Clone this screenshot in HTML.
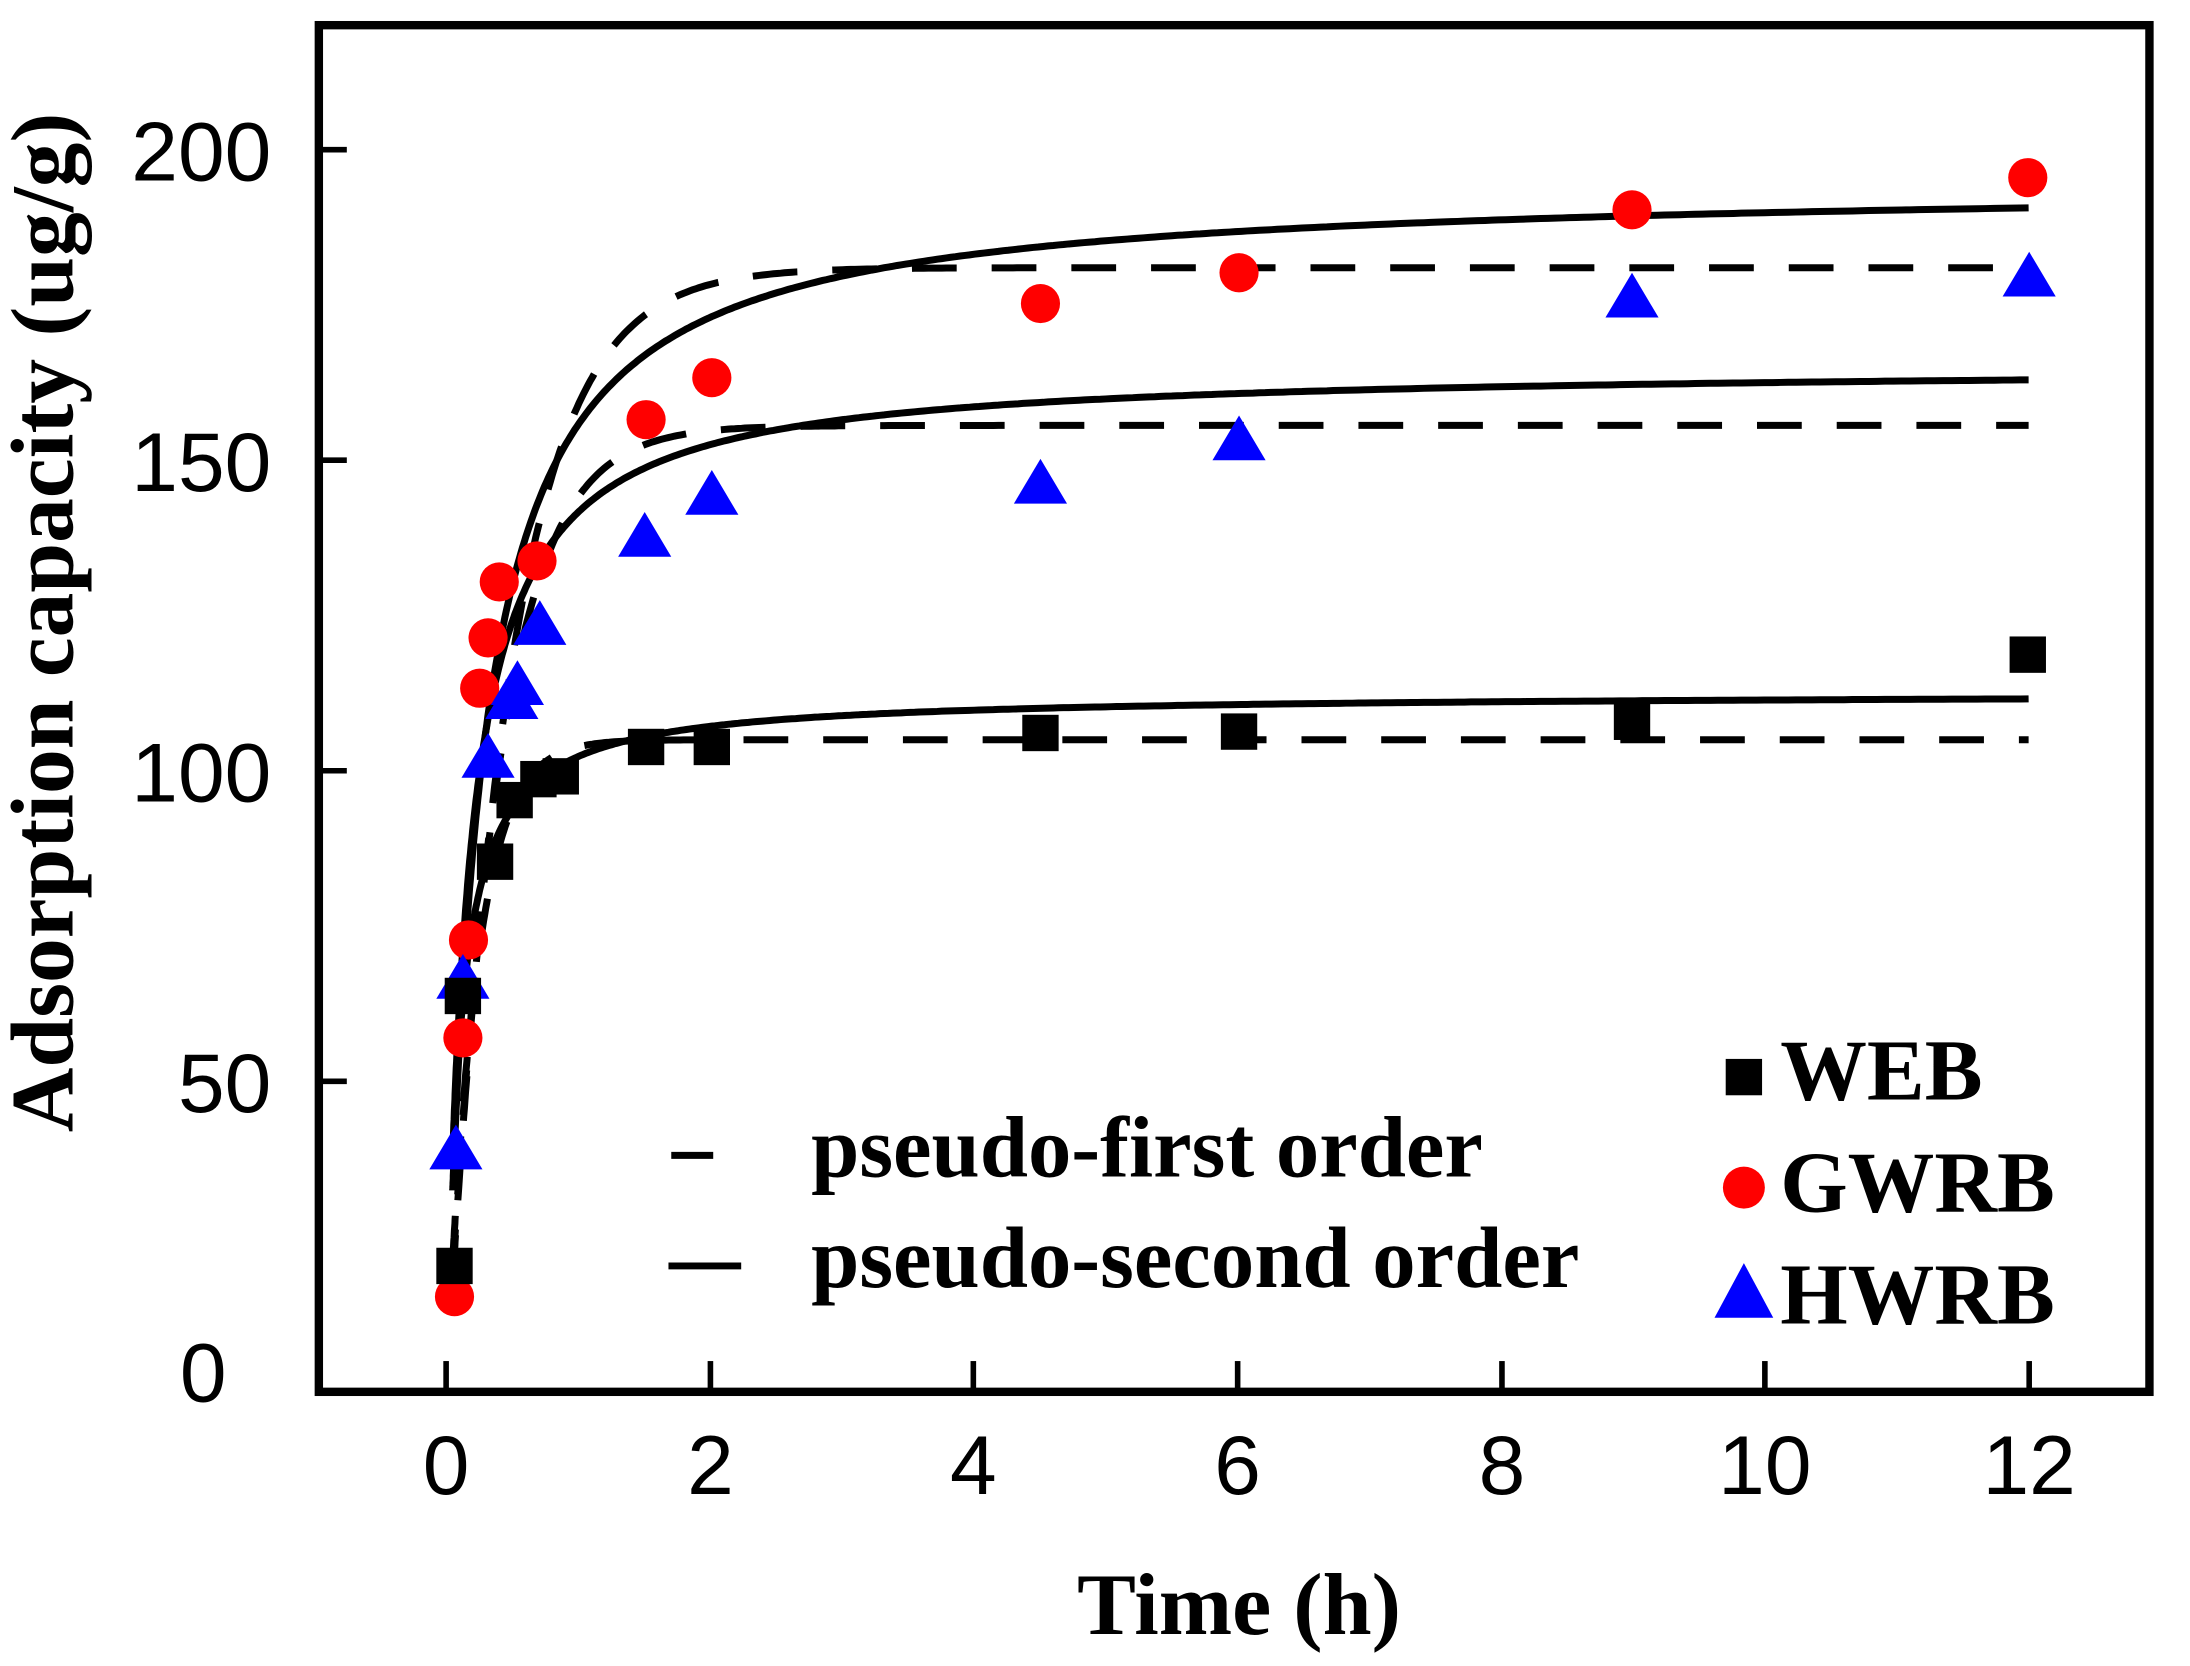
<!DOCTYPE html>
<html><head><meta charset="utf-8"><style>
html,body{margin:0;padding:0;background:#fff;overflow:hidden}
svg{display:block}
.tk{font-family:"Liberation Sans",Arial,sans-serif;font-size:60px;fill:#000}
.bt{font-family:"Liberation Serif","Times New Roman",serif;font-weight:bold;fill:#000}
</style></head><body>
<svg id="s" width="2190" height="1666" viewBox="0 0 1566 1191" preserveAspectRatio="none" xmlns="http://www.w3.org/2000/svg">
<rect x="0" y="0" width="1566" height="1191" fill="#fff"/>
<g id="curves" fill="none" stroke="#000"></g>
<g id="pts"></g>
<rect x="228" y="18" width="1309" height="977" fill="none" stroke="#000" stroke-width="6"/>
<g stroke="#000" stroke-width="4">
<line x1="228" y1="107" x2="248" y2="107"/>
<line x1="228" y1="329" x2="248" y2="329"/>
<line x1="228" y1="551" x2="248" y2="551"/>
<line x1="228" y1="773" x2="248" y2="773"/>
<line x1="319" y1="995" x2="319" y2="973"/>
<line x1="508" y1="995" x2="508" y2="973"/>
<line x1="696" y1="995" x2="696" y2="973"/>
<line x1="885" y1="995" x2="885" y2="973"/>
<line x1="1074" y1="995" x2="1074" y2="973"/>
<line x1="1262" y1="995" x2="1262" y2="973"/>
<line x1="1451" y1="995" x2="1451" y2="973"/>
</g>
<g class="tk" text-anchor="end">
<text x="194" y="129">200</text>
<text x="194" y="351">150</text>
<text x="194" y="573">100</text>
<text x="194" y="795">50</text>
<text x="162" y="1002">0</text>
</g>
<g class="tk" text-anchor="middle">
<text x="319" y="1068">0</text>
<text x="508" y="1068">2</text>
<text x="696" y="1068">4</text>
<text x="885" y="1068">6</text>
<text x="1074" y="1068">8</text>
<text x="1262" y="1068">10</text>
<text x="1451" y="1068">12</text>
</g>
<text class="bt" x="886" y="1168" text-anchor="middle" font-size="63">Time (h)</text>
<text class="bt" transform="translate(52,445) rotate(-90)" text-anchor="middle" font-size="64">Adsorption capacity (ug/g)</text>
<line x1="480" y1="826" x2="510" y2="826" stroke="#000" stroke-width="5"/>
<text class="bt" x="580" y="841" font-size="62">pseudo-first order</text>
<line x1="478" y1="905" x2="530" y2="905" stroke="#000" stroke-width="5"/>
<text class="bt" x="580" y="920" font-size="62">pseudo-second order</text>
<rect x="1234" y="757" width="26" height="26" fill="#000"/>
<text class="bt" x="1273" y="786" font-size="62">WEB</text>
<circle cx="1247" cy="849" r="15" fill="#f00"/>
<text class="bt" x="1273" y="866" font-size="62">GWRB</text>
<polygon points="1247,903 1226,942 1268,942" fill="#00f"/>
<text class="bt" x="1273" y="946" font-size="62">HWRB</text>
</svg>
<script>
const X=t=>319+94.3*t, Y=v=>995-4.44*v;
const g=document.getElementById('curves');
function path(f,dash){let d='';for(let i=0;i<=400;i++){const t=0.05+(12-0.05)*Math.pow(i/400,2.2);d+=(i?'L':'M')+X(t).toFixed(1)+' '+Y(f(t)).toFixed(1);}
const p=document.createElementNS('http://www.w3.org/2000/svg','path');p.setAttribute('d',d);p.setAttribute('stroke-width',5);if(dash)p.setAttribute('stroke-dasharray','32 25');g.appendChild(p);}
const pfo=(qe,k)=>t=>qe*(1-Math.exp(-k*t));
const pso=(qe,a)=>t=>qe*a*t/(1+a*t);
path(pfo(181,2.1),1);path(pfo(155.6,2.6),1);path(pfo(105,4.5),1);
path(pso(194.6,4),0);path(pso(165.2,6),0);path(pso(112.5,10),0);
const pts=document.getElementById('pts');let h='';
[[325,927],[331,742],[335,672],[343,492],[349,456],[357,416],[384,401],[462,300],[509,270],[744,217],[886,195],[1167,150],[1450,127]].forEach(([x,y])=>h+=`<circle cx="${x}" cy="${y}" r="14" fill="#f00"/>`);
[[326,822],[331,700],[349,542],[366,500],[370,490],[386,447],[461,384],[509,354],[744,346],[886,315],[1167,213],[1451,198]].forEach(([x,y])=>h+=`<polygon points="${x},${y-18} ${x-19},${y+14} ${x+19},${y+14}" fill="#00f"/>`);
[[325,905],[331,712],[354,616],[368,572],[385,557],[401,555],[462,534],[509,534],[744,524],[886,523],[1167,516],[1450,468]].forEach(([x,y])=>h+=`<rect x="${x-13}" y="${y-13}" width="26" height="26" fill="#000"/>`);
pts.innerHTML=h;
</script>
</body></html>
